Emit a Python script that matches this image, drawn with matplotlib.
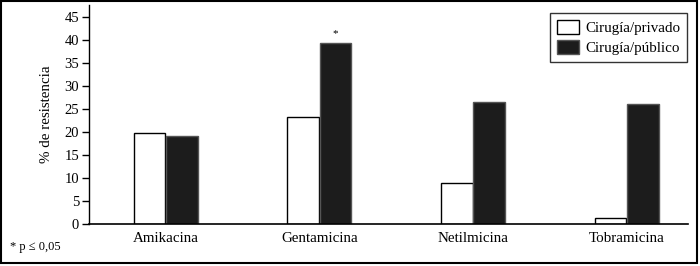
import numpy as np
import matplotlib.pyplot as plt
from matplotlib.patches import Rectangle

# data
farmacos = ["Amikacina", "Gentamicina", "Netilmicina", "Tobramicina"]
privado = [19.8, 23.3, 8.8, 1.3]
publico = [19.1, 39.3, 26.5, 26.1]
series = ["Cirugía/privado", "Cirugía/público"]
yticks = [0, 5, 10, 15, 20, 25, 30, 35, 40, 45]

plt.rcParams['font.family'] = ['Liberation Serif', 'DejaVu Serif']

fig = plt.figure(figsize=(7, 2.66), dpi=100)
ax = fig.add_axes([0.127, 0.158, 0.856, 0.823])

x = np.arange(len(farmacos))
w = 0.205
ax.bar(x - w / 2 - 0.003, privado, w, color="white", edgecolor="black", linewidth=1.0, label=series[0])
ax.bar(x + w / 2 + 0.003, publico, w, color="#1c1c1c", edgecolor="#555555", linewidth=1.0, label=series[1])

# significance mark over gentamicina
ax.text(x[1] + w / 2, publico[1] + 1.2, "*", ha="center", va="bottom", fontsize=8)

ax.set_xlim(-0.5, 3.4)
ax.set_ylim(0, 47.6)
ax.set_yticks(yticks)
ax.set_xticks(x)
ax.set_xticklabels(farmacos, fontsize=10.8)
ax.tick_params(axis="x", length=0, pad=6)
ax.tick_params(axis="y", direction="out", length=5, width=1, labelsize=10.5, pad=2, colors="black")
for s in ["top", "right"]:
    ax.spines[s].set_visible(False)
ax.spines["left"].set_linewidth(1)
ax.spines["bottom"].set_linewidth(1.2)
ax.set_ylabel("% de resistencia", fontsize=10.8, labelpad=8)

leg = ax.legend(loc="upper right", bbox_to_anchor=(0.998, 0.963), borderaxespad=0, fontsize=10.8,
                frameon=True, fancybox=False, edgecolor="black", handlelength=1.5, handleheight=1.1,
                handletextpad=0.4, borderpad=0.45, labelspacing=0.3)
leg.get_frame().set_linewidth(1)

fig.text(0.014, 0.072, "* p ≤ 0,05", fontsize=9, ha="left", va="center")

# border around the whole figure
fig.patches.append(Rectangle((0.002, 0.01), 0.994, 0.986, transform=fig.transFigure,
                             fill=False, edgecolor="black", linewidth=1.5))

fig.savefig("out.png", dpi=100)
